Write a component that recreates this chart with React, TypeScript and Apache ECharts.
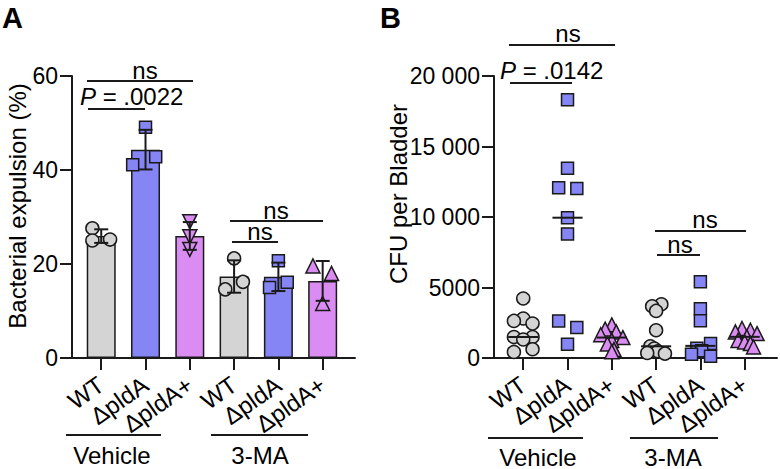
import React, { useEffect, useRef } from "react";
import * as echarts from "echarts";

// ---------- data ----------
const categories = ["WT", "ΔpldA", "ΔpldA+", "WT", "ΔpldA", "ΔpldA+"];
const groupNames = ["Vehicle", "3-MA"];
const yTicksA = [0, 20, 40, 60];
const yTicksB = [0, 5000, 10000, 15000, 20000];

// Panel A: bacterial expulsion (%) per replicate
const expulsion = [
  [27.6, 25.0, 25.2],
  [49.1, 41.1, 42.8],
  [29.0, 25.8, 23.1],
  [21.2, 16.2, 14.6],
  [20.7, 16.1, 15.0],
  [19.6, 18.0, 11.6],
];
// horizontal jitter (category units)
const expulsionJitter = [
  [-0.2, -0.2, 0.2],
  [0, -0.29, 0.23],
  [0, 0, 0],
  [0, 0.2, -0.2],
  [0, 0.2, -0.2],
  [-0.22, 0.2, 0],
];

// Panel B: CFU per bladder
const cfu = [
  [4220, 2800, 2630, 2440, 1490, 1490, 1310, 620, 430],
  [18310, 13450, 12070, 12030, 9950, 8800, 2630, 2160, 970],
  [2350, 2050, 1850, 1650, 1450, 1250, 1000, 600, 450],
  [3810, 3670, 3340, 1970, 830, 670, 480, 360, 310],
  [5400, 3500, 2650, 1020, 700, 520, 260, 130],
  [2090, 1970, 1850, 1730, 1500, 1250, 1140, 1020, 780],
];
const cfuJitter = [
  [0, 0, -0.21, 0.21, -0.21, 0.21, 0, 0.21, -0.21],
  [0, 0, -0.2, 0.21, 0, 0, -0.2, 0.21, 0],
  [0, -0.15, 0.1, -0.25, 0.25, 0, -0.1, 0.05, 0],
  [0.12, -0.09, 0, 0, -0.13, -0.04, 0.04, -0.2, 0.2],
  [0, 0, 0, 0.23, -0.08, 0.03, -0.2, 0.23],
  [-0.06, 0.13, -0.21, 0.28, 0.05, -0.15, 0, 0.13, 0.2],
];

// ---------- styles ----------
const FONT = "Liberation Sans, Arial, Helvetica, sans-serif";
const INK = "#1a1a1a";
const colors = ["#d4d4d4", "#8585f5", "#da8cf2"];
const symbols = ["circle", "rect", "triangle"];

const mean = (a: number[]) => a.reduce((s, v) => s + v, 0) / a.length;
const sd = (a: number[]) => {
  const m = mean(a);
  return Math.sqrt(a.reduce((s, v) => s + (v - m) * (v - m), 0) / (a.length - 1));
};
const median = (a: number[]) => {
  const s = [...a].sort((x, y) => x - y);
  const n = s.length;
  return n % 2 ? s[(n - 1) / 2] : (s[n / 2 - 1] + s[n / 2]) / 2;
};

const catIdx = categories.map((_, i) => i);

function xAxisCfg(gridIndex: number) {
  return {
    type: "value",
    gridIndex,
    min: -0.66,
    max: 5.73,
    axisLine: { show: true, onZero: false, lineStyle: { color: INK, width: 2 } },
    axisTick: { show: true, customValues: catIdx, length: 12, lineStyle: { color: INK, width: 2 } },
    axisLabel: {
      customValues: catIdx,
      formatter: (v: number) => categories[Math.round(v)] ?? "",
      rotate: 35,
      margin: 24,
      fontSize: 24,
      fontFamily: FONT,
      color: "#000",
    },
    splitLine: { show: false },
  };
}

function yAxisCfg(gridIndex: number, max: number, interval: number, fmt: (v: number) => string) {
  return {
    type: "value",
    gridIndex,
    min: 0,
    max,
    interval,
    axisLine: { show: true, onZero: false, lineStyle: { color: INK, width: 2 } },
    axisTick: { show: true, length: 12, lineStyle: { color: INK, width: 2 } },
    axisLabel: { fontSize: 23, fontFamily: FONT, color: "#000", margin: 14, formatter: fmt },
    splitLine: { show: false },
  };
}

const fmtThousands = (v: number) =>
  v >= 10000 ? String(v).replace(/\B(?=(\d{3})+(?!\d))/g, " ") : String(v);

export default function App() {
  const ref = useRef<HTMLDivElement>(null);
  useEffect(() => {
    if (!ref.current) return;
    const chart = echarts.init(ref.current, undefined, { renderer: "svg" });

    const series: any[] = [];

    // Panel A bars
    series.push({
      type: "bar",
      xAxisIndex: 0,
      yAxisIndex: 0,
      barWidth: 29,
      z: 2,
      itemStyle: { borderColor: INK, borderWidth: 1.5 },
      data: expulsion.map((vals, i) => ({
        value: [i, mean(vals)],
        itemStyle: { color: colors[i % 3] },
      })),
    });

    // Panel A points
    expulsion.forEach((vals, i) => {
      series.push({
        type: "scatter",
        xAxisIndex: 0,
        yAxisIndex: 0,
        z: 3,
        symbol: symbols[i % 3],
        symbolSize: i % 3 === 2 ? 14 : i % 3 === 1 ? 12 : 13,
        symbolRotate: i === 2 ? 180 : 0,
        itemStyle: { color: colors[i % 3], borderColor: INK, borderWidth: 1.5, opacity: 1 },
        data: vals.map((v, k) => [i + expulsionJitter[i][k], v]),
      });
    });

    // Panel A error bars (mean ± SD)
    series.push({
      type: "custom",
      xAxisIndex: 0,
      yAxisIndex: 0,
      z: 4,
      encode: { x: 0, y: [1, 2, 3] },
      data: expulsion.map((vals, i) => {
        const m = mean(vals);
        const s = sd(vals);
        return [i, m, m - s, m + s];
      }),
      renderItem: (params: any, api: any) => {
        const x = api.value(0);
        const top = api.coord([x, api.value(3)]);
        const bot = api.coord([x, api.value(2)]);
        const cap = 7;
        const st = { stroke: INK, lineWidth: 2 };
        return {
          type: "group",
          children: [
            { type: "line", shape: { x1: top[0], y1: top[1], x2: bot[0], y2: bot[1] }, style: st },
            { type: "line", shape: { x1: top[0] - cap, y1: top[1], x2: top[0] + cap, y2: top[1] }, style: st },
            { type: "line", shape: { x1: bot[0] - cap, y1: bot[1], x2: bot[0] + cap, y2: bot[1] }, style: st },
          ],
        };
      },
    });

    // Panel B points
    cfu.forEach((vals, i) => {
      series.push({
        type: "scatter",
        xAxisIndex: 1,
        yAxisIndex: 1,
        z: 3,
        symbol: symbols[i % 3],
        symbolSize: i % 3 === 2 ? 14 : i % 3 === 1 ? 12 : 13,
        itemStyle: { color: colors[i % 3], borderColor: INK, borderWidth: 1.5, opacity: 1 },
        data: vals.map((v, k) => [i + cfuJitter[i][k], v]),
      });
    });

    // Panel B medians
    series.push({
      type: "custom",
      xAxisIndex: 1,
      yAxisIndex: 1,
      z: 4,
      encode: { x: 0, y: 1 },
      data: cfu.map((vals, i) => [i, median(vals)]),
      renderItem: (params: any, api: any) => {
        const x = api.value(0);
        const y = api.value(1);
        const a = api.coord([x - 0.34, y]);
        const b = api.coord([x + 0.34, y]);
        return {
          type: "line",
          shape: { x1: a[0], y1: a[1], x2: b[0], y2: b[1] },
          style: { stroke: INK, lineWidth: 2 },
        };
      },
    });

    const txt = (x: number, y: number, text: string, size = 24, extra: any = {}) => ({
      type: "text",
      x,
      y,
      style: {
        text,
        fontSize: size,
        fontFamily: FONT,
        fill: "#000",
        align: "center",
        verticalAlign: "middle",
        ...extra,
      },
    });
    const ln = (x1: number, y1: number, x2: number, y2: number) => ({
      type: "line",
      shape: { x1, y1, x2, y2 },
      style: { stroke: INK, lineWidth: 2 },
    });
    const pText = (x: number, y: number, val: string) => ({
      type: "text",
      x,
      y,
      style: {
        text: "{i|P} = " + val,
        fontSize: 24,
        fontFamily: FONT,
        fill: "#000",
        align: "left",
        verticalAlign: "middle",
        rich: { i: { fontStyle: "italic", fontSize: 24, fontFamily: FONT, fill: "#000" } },
      },
    });

    const graphic: any[] = [
      // panel letters
      txt(2, 3, "A", 29, { align: "left", verticalAlign: "top", fontWeight: "bold" }),
      txt(380, 3, "B", 29, { align: "left", verticalAlign: "top", fontWeight: "bold" }),
      // y axis names
      { ...txt(17, 206, "Bacterial expulsion (%)"), rotation: Math.PI / 2 },
      { ...txt(398, 194, "CFU per Bladder"), rotation: Math.PI / 2 },
      // Panel A significance
      txt(145, 70, "ns"),
      ln(87, 81, 193, 81),
      pText(80, 96, ".0022"),
      ln(88, 109, 145, 109),
      txt(276, 210, "ns"),
      ln(230, 221, 323, 221),
      txt(260, 231, "ns"),
      ln(232, 242, 278, 242),
      // Panel A groups
      ln(66, 435, 161, 435),
      txt(112, 455, groupNames[0]),
      ln(211, 435, 308, 435),
      txt(260, 455, groupNames[1]),
      // Panel B significance
      txt(568, 33, "ns"),
      ln(509, 45, 615, 45),
      pText(500, 70, ".0142"),
      ln(510, 83, 572, 83),
      txt(705, 219, "ns"),
      ln(655, 231, 746, 231),
      txt(680, 244, "ns"),
      ln(657, 255, 700, 255),
      // Panel B groups
      ln(488, 438, 583, 438),
      txt(538, 457, groupNames[0]),
      ln(630, 438, 718, 438),
      txt(673, 457, groupNames[1]),
    ];

    chart.setOption({
      animation: false,
      backgroundColor: "#fff",
      textStyle: { fontFamily: FONT },
      grid: [
        { left: 72, top: 76, width: 283, height: 282 },
        { left: 494, top: 76, width: 283, height: 282 },
      ],
      xAxis: [xAxisCfg(0), xAxisCfg(1)],
      yAxis: [
        yAxisCfg(0, yTicksA[yTicksA.length - 1], yTicksA[1] - yTicksA[0], (v) => String(v)),
        yAxisCfg(1, yTicksB[yTicksB.length - 1], yTicksB[1] - yTicksB[0], fmtThousands),
      ],
      series,
      graphic,
    });
    return () => chart.dispose();
  }, []);
  return (
    <div
      ref={ref}
      style={{ position: "fixed", left: 0, top: 0, width: 780, height: 469, background: "#fff" }}
    />
  );
}
